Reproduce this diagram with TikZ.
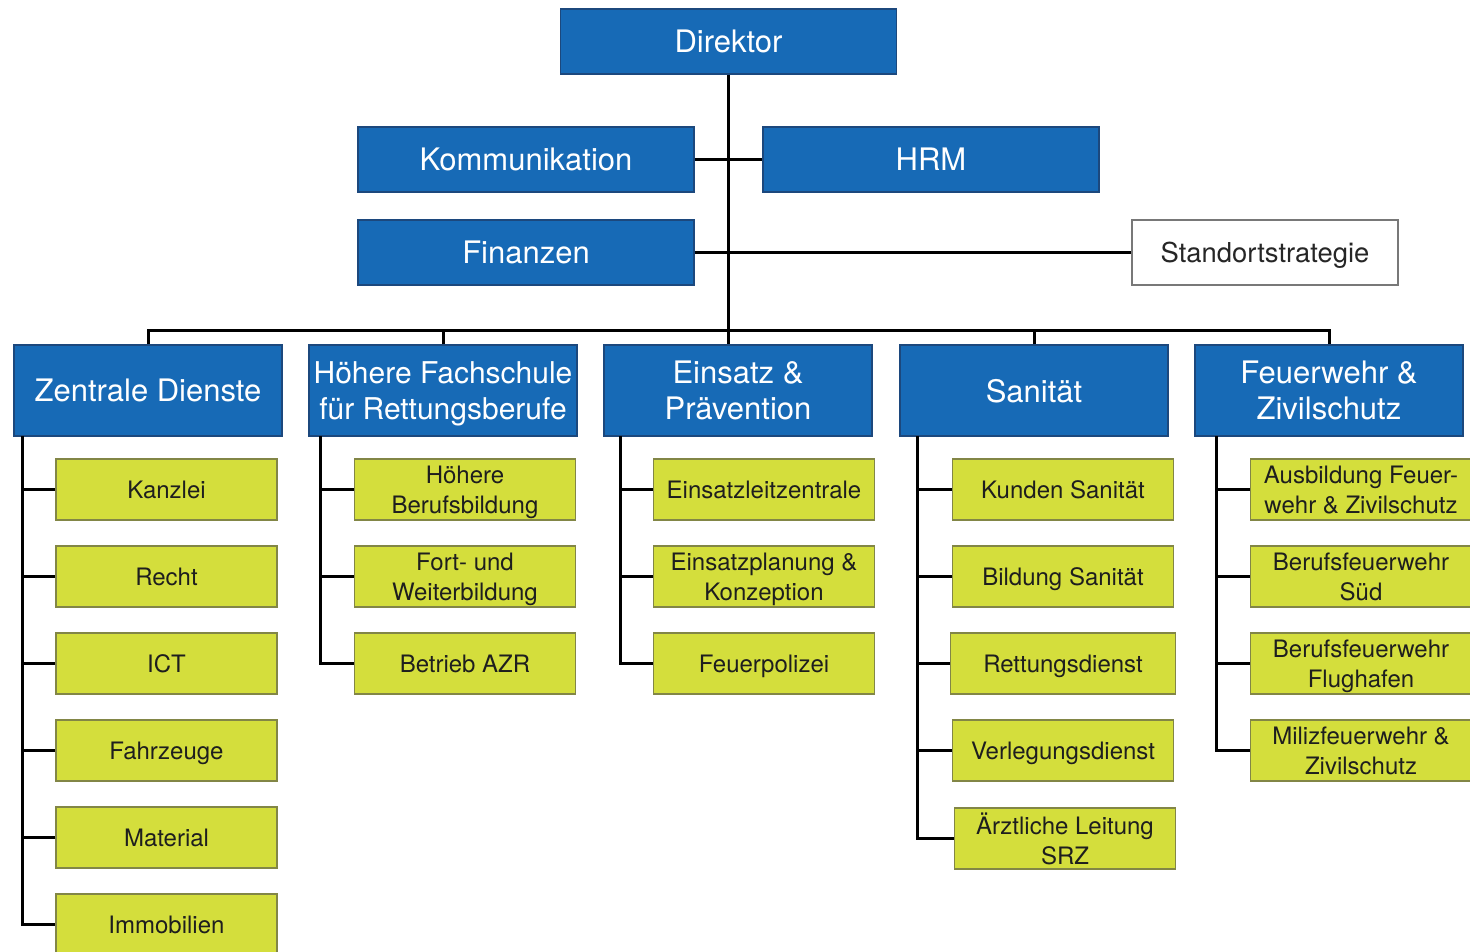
\documentclass[tikz,border=0pt]{standalone}
\usepackage{fontspec}
\setmainfont{TeX Gyre Heros}
\definecolor{bluefill}{RGB}{23,106,182}
\definecolor{blueborder}{RGB}{28,72,125}
\definecolor{yelfill}{RGB}{212,222,60}
\definecolor{yelborder}{RGB}{130,134,70}
\definecolor{yeltext}{RGB}{30,30,30}
\definecolor{graybox}{RGB}{120,120,120}
\begin{document}
\begin{tikzpicture}[x=1pt,y=-1pt,
  bluebox/.style={draw=blueborder, line width=1.2pt, fill=bluefill, text=white, inner sep=0pt,
    minimum width=336pt, minimum height=65pt, align=center, text depth=-7pt,
    font=\fontsize{31}{36}\selectfont},
  colbox/.style={bluebox, minimum width=268pt, minimum height=91pt},
  whitebox/.style={draw=graybox, line width=1.2pt, fill=white, text=black!85, inner sep=0pt,
    minimum width=266pt, minimum height=65pt, text depth=0pt, font=\fontsize{27.4}{32}\selectfont},
  yelbox/.style={draw=yelborder, line width=1.2pt, fill=yelfill, text=yeltext, inner sep=0pt,
    minimum width=221pt, minimum height=61pt, align=center, text depth=-3pt,
    font=\fontsize{24}{30}\selectfont},
  conn/.style={draw=black, line width=3pt}
]
\clip (0,0) rectangle (1470,952);
\fill[white] (0,0) rectangle (1470,952);

% top level
\node[bluebox] (dir) at (728.5,41.5) {Direktor};
\node[bluebox] (kom) at (526,159.5) {Kommunikation};
\node[bluebox] (hrm) at (931,159.5) {HRM};
\node[bluebox] (fin) at (526,252.5) {Finanzen};
\node[whitebox] (std) at (1265,252.5) {Standortstrategie};

% departments
\node[colbox] (zd)  at (148,390.5) {Zentrale Dienste};
\node[colbox, font=\fontsize{30}{36}\selectfont, text depth=-5pt] (hf)  at (443,390.5) {Höhere Fachschule\\für Rettungsberufe};
\node[colbox] (ein) at (738,390.5) {Einsatz \&\\Prävention};
\node[colbox] (san) at (1034,390.5) {Sanität};
\node[colbox] (fw)  at (1329,390.5) {Feuerwehr \&\\Zivilschutz};

% column 1
\node[yelbox] (a1) at (166.5,489.5) {Kanzlei};
\node[yelbox] (a2) at (166.5,576.5) {Recht};
\node[yelbox] (a3) at (166.5,663.5) {ICT};
\node[yelbox] (a4) at (166.5,750.5) {Fahrzeuge};
\node[yelbox] (a5) at (166.5,837.5) {Material};
\node[yelbox] (a6) at (166.5,924.5) {Immobilien};
% column 2
\node[yelbox] (b1) at (465,489.5) {Höhere\\Berufsbildung};
\node[yelbox] (b2) at (465,576.5) {Fort- und\\Weiterbildung};
\node[yelbox] (b3) at (465,663.5) {Betrieb AZR};
% column 3
\node[yelbox] (c1) at (764,489.5) {Einsatzleitzentrale};
\node[yelbox] (c2) at (764,576.5) {Einsatzplanung \&\\Konzeption};
\node[yelbox] (c3) at (764,663.5) {Feuerpolizei};
% column 4
\node[yelbox] (d1) at (1063,489.5) {Kunden Sanität};
\node[yelbox] (d2) at (1063,576.5) {Bildung Sanität};
\node[yelbox, minimum width=225pt] (d3) at (1063,663.5) {Rettungsdienst};
\node[yelbox] (d4) at (1063,750.5) {Verlegungsdienst};
\node[yelbox] (d5) at (1065,838.5) {Ärztliche Leitung\\SRZ};
% column 5
\node[yelbox] (e1) at (1361,489.5) {Ausbildung Feuer-\\wehr \& Zivilschutz};
\node[yelbox] (e2) at (1361,576.5) {Berufsfeuerwehr\\Süd};
\node[yelbox] (e3) at (1361,663.5) {Berufsfeuerwehr\\Flughafen};
\node[yelbox] (e4) at (1361,750.5) {Milizfeuerwehr \&\\Zivilschutz};

% connectors top
\coordinate (bus) at (728,330);
\draw[conn] (dir.south -| bus) -- (bus);
\draw[conn] (bus) -- (bus |- ein.north);
\draw[conn] (kom.east) -- (hrm.west);
\draw[conn] (fin.east) -- (std.west);
\draw[conn] (zd.north) |- (bus) -| (fw.north);
\draw[conn] (hf.north) -- (hf.north |- bus);
\draw[conn] (san.north) -- (san.north |- bus);

% spines
\coordinate (s1) at (22,436);
\coordinate (s2) at (320,436);
\coordinate (s3) at (620,436);
\coordinate (s4) at (917,436);
\coordinate (s5) at (1216,436);
\draw[conn] (s1) |- (a6.west);
\foreach \i in {1,...,5} \draw[conn] (a\i.west) -- (a\i.west -| s1);
\draw[conn] (s2) |- (b3.west);
\foreach \i in {1,2} \draw[conn] (b\i.west) -- (b\i.west -| s2);
\draw[conn] (s3) |- (c3.west);
\foreach \i in {1,2} \draw[conn] (c\i.west) -- (c\i.west -| s3);
\draw[conn] (s4) |- (d5.west);
\foreach \i in {1,...,4} \draw[conn] (d\i.west) -- (d\i.west -| s4);
\draw[conn] (s5) |- (e4.west);
\foreach \i in {1,...,3} \draw[conn] (e\i.west) -- (e\i.west -| s5);
\end{tikzpicture}
\end{document}
